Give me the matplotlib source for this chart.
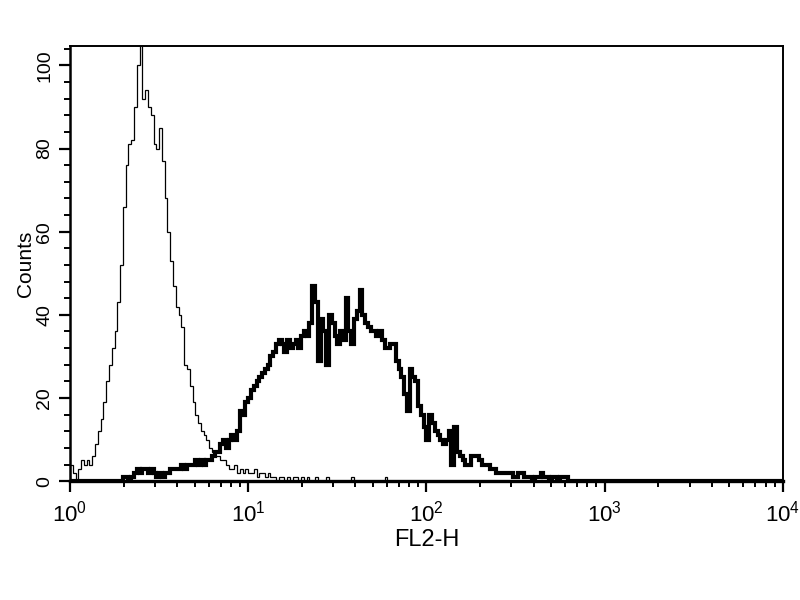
import numpy as np
import matplotlib
matplotlib.use("Agg")
import matplotlib.pyplot as plt
from matplotlib.ticker import LogLocator, MultipleLocator

plt.rcParams['font.family'] = ['Liberation Sans Narrow', 'Liberation Sans', 'DejaVu Sans']

# --- histogram data: 256 log channels over 4 decades (64 per decade) ---
n_channels = 256
decades = 4

# isotype control (thin line), counts from channel 0
ctrl_start = 0
ctrl_counts = [
    4, 2, 0, 3, 5, 4, 5, 4, 6, 9,
    12, 15, 19, 24, 28, 32, 36, 43, 52, 66,
    76, 81, 82, 90, 100, 106, 92, 94, 90, 88,
    81, 80, 85, 77, 68, 60, 53, 47, 42, 40,
    37, 28, 27, 23, 19, 16, 14, 12, 11, 10,
    8, 7, 6, 6, 5, 5, 4, 3, 3, 4,
    2, 3, 2, 3, 2, 2, 3, 1, 2, 2,
    1, 2, 1, 1, 0, 1, 1, 0, 1, 0,
    1, 1, 0, 1, 0, 1, 0, 0, 1, 0,
    0, 0, 1, 0, 0, 0, 0, 0, 0, 0,
    0, 1, 0, 0, 0, 0, 0, 0, 0, 0,
    0, 0, 0, 1,
]

# stained sample (thick line), counts from channel 18
samp_start = 18
samp_counts = [
    0, 1, 1, 0, 1, 2, 3, 2, 3, 3,
    2, 3, 2, 1, 2, 1, 2, 2, 3, 3,
    3, 3, 4, 3, 4, 4, 4, 5, 4, 5,
    4, 5, 5, 6, 7, 7, 9, 10, 8, 10,
    11, 10, 12, 17, 16, 19, 20, 22, 23, 24,
    25, 26, 27, 28, 30, 31, 33, 34, 33, 31,
    34, 32, 33, 34, 32, 35, 36, 35, 38, 47,
    43, 29, 39, 36, 28, 40, 38, 35, 33, 36,
    34, 44, 36, 33, 39, 41, 46, 40, 38, 37,
    36, 36, 35, 36, 34, 32, 32, 33, 33, 29,
    27, 25, 21, 17, 27, 25, 24, 18, 16, 13,
    10, 16, 14, 12, 11, 10, 9, 10, 12, 4,
    13, 7, 6, 5, 4, 4, 6, 6, 6, 5,
    4, 4, 4, 3, 3, 2, 2, 2, 2, 2,
    2, 1, 1, 2, 2, 1, 1, 1, 0, 1,
    1, 2, 1, 1, 0, 1, 1, 0, 1, 1,
    1,
]

x_label = "FL2-H"
y_label = "Counts"
y_ticks = [0, 20, 40, 60, 80, 100]


def full_hist(start, counts):
    h = np.zeros(n_channels)
    h[start:start + len(counts)] = counts
    return h


edges = 10 ** (np.arange(n_channels + 1) * decades / n_channels)
ctrl = full_hist(ctrl_start, ctrl_counts)
samp = full_hist(samp_start, samp_counts)

# --- figure ---
fig = plt.figure(figsize=(8, 6), dpi=100)
ax = fig.add_axes([0.0875, 0.198, 0.891, 0.725])

ax.stairs(ctrl, edges, color="black", lw=0.9)
ax.stairs(samp, edges, color="black", lw=3.0)

ax.set_xscale("log")
ax.set_xlim(1, 1e4)
ax.set_ylim(0, 104.6)

ax.set_yticks(y_ticks)
ax.yaxis.set_minor_locator(MultipleLocator(4))
ax.xaxis.set_major_locator(LogLocator(base=10))
ax.xaxis.set_minor_locator(LogLocator(base=10, subs=np.arange(2, 10)))

ax.tick_params(which="major", direction="out", length=8, width=1.6, labelsize=16)
ax.tick_params(which="minor", direction="out", length=4.5, width=1.4)
ax.tick_params(axis="y", labelrotation=90, pad=10)
for lab in ax.get_yticklabels():
    lab.set_va("center")
    lab.set_ha("center")
    lab.set_fontsize(14)
ax.tick_params(axis="x", pad=6)

ax.spines["left"].set_linewidth(1.8)
ax.spines["bottom"].set_linewidth(2.4)
ax.spines["top"].set_linewidth(1.4)
ax.spines["right"].set_linewidth(1.4)

ax.set_xlabel(x_label, fontsize=17, labelpad=2)
ax.set_ylabel(y_label, fontsize=15, labelpad=1)

fig.savefig("out.png", dpi=100)
